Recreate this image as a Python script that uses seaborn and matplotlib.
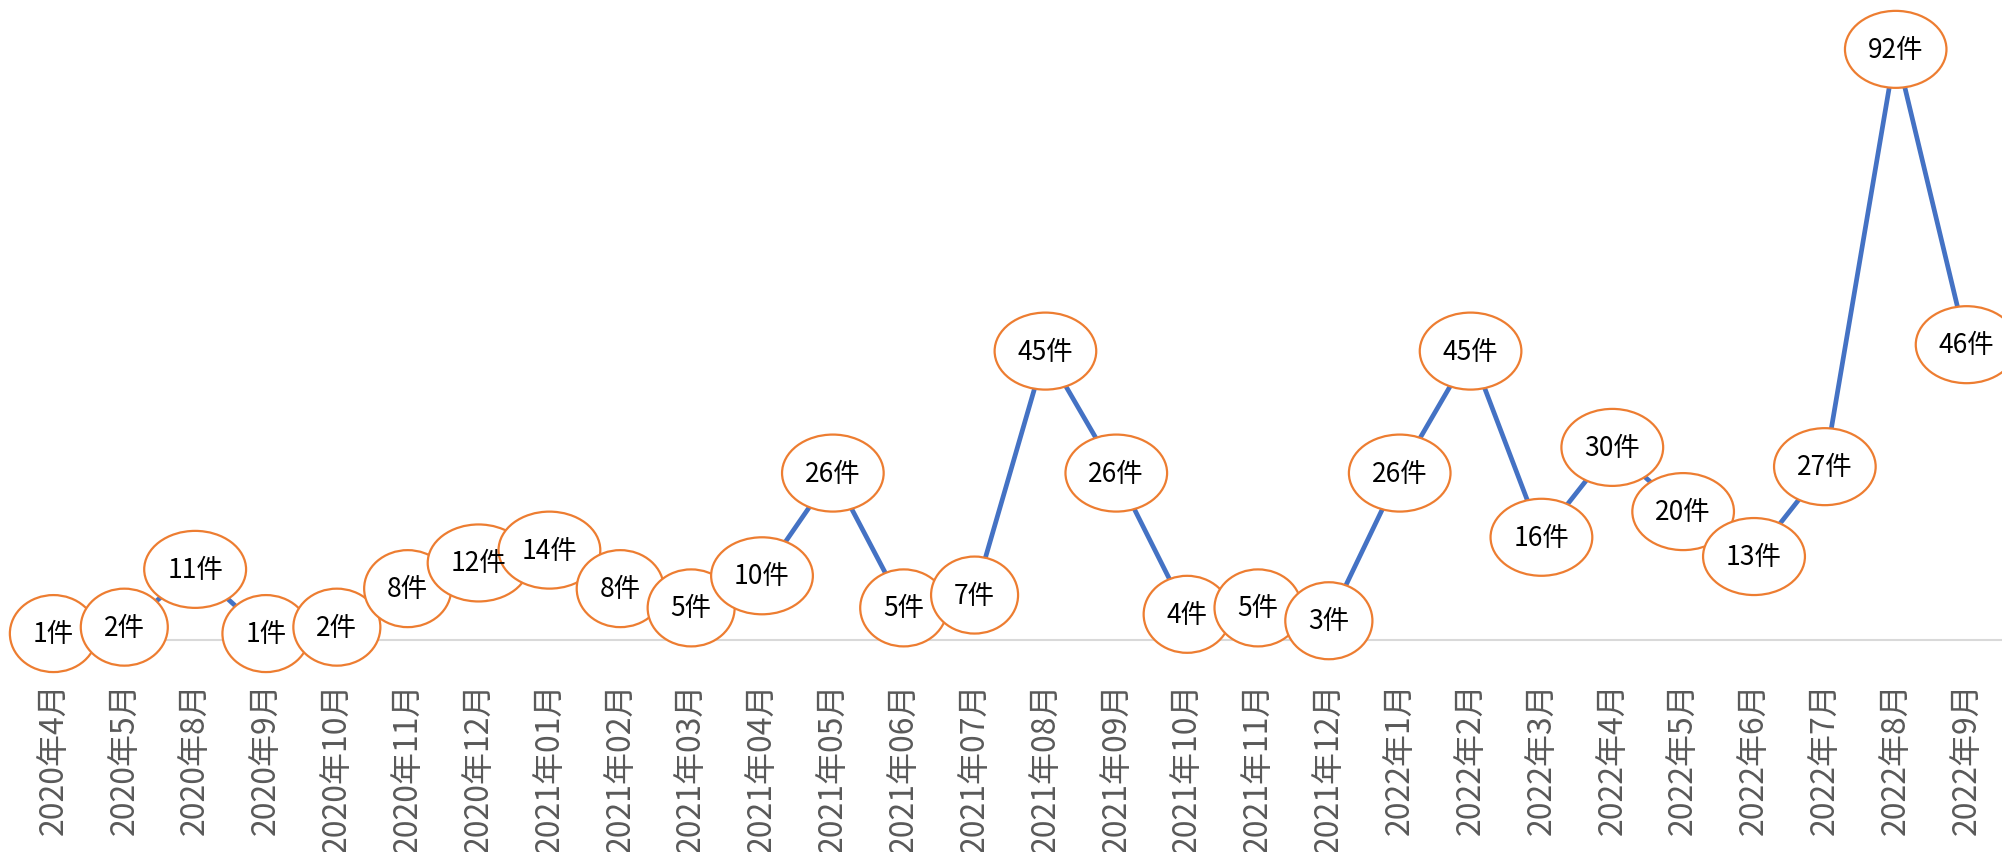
import pandas as pd
import matplotlib
matplotlib.use("Agg")
import matplotlib.pyplot as plt
from matplotlib.patches import Ellipse
import seaborn as sns

# month labels and monthly case counts
months = ["2020年4月", "2020年5月", "2020年8月", "2020年9月", "2020年10月",
          "2020年11月", "2020年12月", "2021年01月", "2021年02月", "2021年03月",
          "2021年04月", "2021年05月", "2021年06月", "2021年07月", "2021年08月",
          "2021年09月", "2021年10月", "2021年11月", "2021年12月", "2022年1月",
          "2022年2月", "2022年3月", "2022年4月", "2022年5月", "2022年6月",
          "2022年7月", "2022年8月", "2022年9月"]
counts = [1, 2, 11, 1, 2, 8, 12, 14, 8, 5, 10, 26, 5, 7, 45, 26, 4, 5, 3,
          26, 45, 16, 30, 20, 13, 27, 92, 46]
unit = "件"

df = pd.DataFrame({"month": months, "count": counts})

sns.set_theme(style="white")
plt.rcParams["font.family"] = ["Noto Sans CJK SC", "DejaVu Sans"]

fig = plt.figure(figsize=(20.02, 8.53), dpi=100)
ax = fig.add_axes([18 / 2002, 212 / 853, 1984 / 2002, 642 / 853])

# the monthly line
sns.lineplot(data=df, x="month", y="count", sort=False, color="#4472C4",
             linewidth=3.4, ax=ax, zorder=2)

ax.set_xlim(-0.5, len(months) - 0.5)
ax.set_ylim(0, 100)

# pixels per data unit, used to size the round label bubbles
fig.canvas.draw()
renderer = fig.canvas.get_renderer()
bb = ax.get_window_extent()
px_x = bb.width / (len(months))
px_y = bb.height / 100

# ellipse data labels centred on each point
for i, v in enumerate(df["count"]):
    t = ax.text(i, v, f"{v}{unit}", ha="center", va="center", fontsize=19,
                color="black", zorder=4, clip_on=False)
    tw = t.get_window_extent(renderer).width
    ax.add_patch(Ellipse((i, v), (tw + 46) / px_x, 77 / px_y,
                         fc="white", ec="#ED7D31", lw=1.6, zorder=3,
                         clip_on=False))

ax.set_xlabel("")
ax.set_ylabel("")
ax.set_yticks([])
ax.tick_params(axis="x", length=0, pad=30, labelsize=23,
               labelcolor="#595959", labelrotation=90)

for side in ["top", "left", "right"]:
    ax.spines[side].set_visible(False)
ax.spines["bottom"].set_color("#D9D9D9")
ax.spines["bottom"].set_linewidth(1.5)
ax.spines["bottom"].set_zorder(1)

fig.savefig("out.png", dpi=100)
